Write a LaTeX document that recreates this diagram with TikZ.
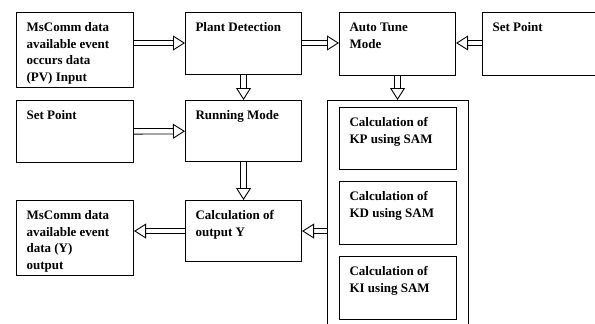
\documentclass[tikz,border=0pt]{standalone}
\usepackage{fontspec}
\setmainfont{Liberation Serif}
\usetikzlibrary{arrows.meta, positioning}
\newcommand{\blocktext}[3]{\parbox[t][#2][t]{#1}{\fontsize{13}{16.5}\selectfont\bfseries\raggedright\vspace{7.5pt}\strut #3}}

\begin{document}
\begin{tikzpicture}[x=1pt, y=-1pt,
  blk/.style={draw, line width=1.1pt, anchor=north west, inner xsep=10pt, inner ysep=0pt},
  hollow/.style={double, double distance=4.5pt, line width=0.9pt,
                 -{Triangle[open, length=12pt, width=15pt, line width=0.9pt]}},
]
  \path[use as bounding box, clip] (0,0) rectangle (595,324);
  % top row
  \node[blk] (in) at (16,12) {\blocktext{97pt}{75pt}{MsComm data\\available event\\occurs data\\(PV) Input}};
  \node[blk] (pd) at (185,12) {\blocktext{96pt}{62pt}{Plant Detection}};
  \node[blk] (at) at (339,12) {\blocktext{96pt}{63pt}{Auto Tune\\Mode}};
  \node[blk] (sp1) at (482,12) {\blocktext{110pt}{63pt}{Set Point}};
  % middle row
  \node[blk] (sp2) at (16,100) {\blocktext{97pt}{62pt}{Set Point}};
  \node[blk] (rm) at (185,100) {\blocktext{96pt}{61pt}{Running Mode}};
  % bottom row
  \node[blk] (out) at (16,200) {\blocktext{97pt}{75pt}{MsComm data\\available event\\data (Y)\\output}};
  \node[blk] (cy) at (185,200) {\blocktext{96pt}{61pt}{Calculation of\\output Y}};
  % SAM group
  \node[blk, inner sep=0pt, minimum width=141pt, minimum height=240pt] (grp) at (327,100) {};
  \node[blk] (kp) at (339,107) {\blocktext{97pt}{62pt}{Calculation of\\KP using SAM}};
  \node[blk] (kd) at (339,181) {\blocktext{97pt}{63pt}{Calculation of\\KD using SAM}};
  \node[blk] (ki) at (339,256) {\blocktext{97pt}{63pt}{Calculation of\\KI using SAM}};
  % connectors
  \draw[hollow] ([yshift=-31pt]in.north east) -- ([yshift=-31pt]pd.north west);
  \draw[hollow] ([yshift=-31pt]pd.north east) -- ([yshift=-31pt]at.north west);
  \draw[hollow] ([yshift=-31pt]sp1.north west) -- ([yshift=-31pt]at.north east);
  \draw[hollow] (pd) -- (rm);
  \draw[hollow] (at) -- (at.south |- grp.north);
  \draw[hollow] (sp2) -- (rm);
  \draw[hollow] (rm) -- (cy);
  \draw[hollow] (cy.west) -- (cy.west -| out.east);
  \draw[hollow] (cy.east -| grp.west) -- (cy.east);
\end{tikzpicture}
\end{document}
